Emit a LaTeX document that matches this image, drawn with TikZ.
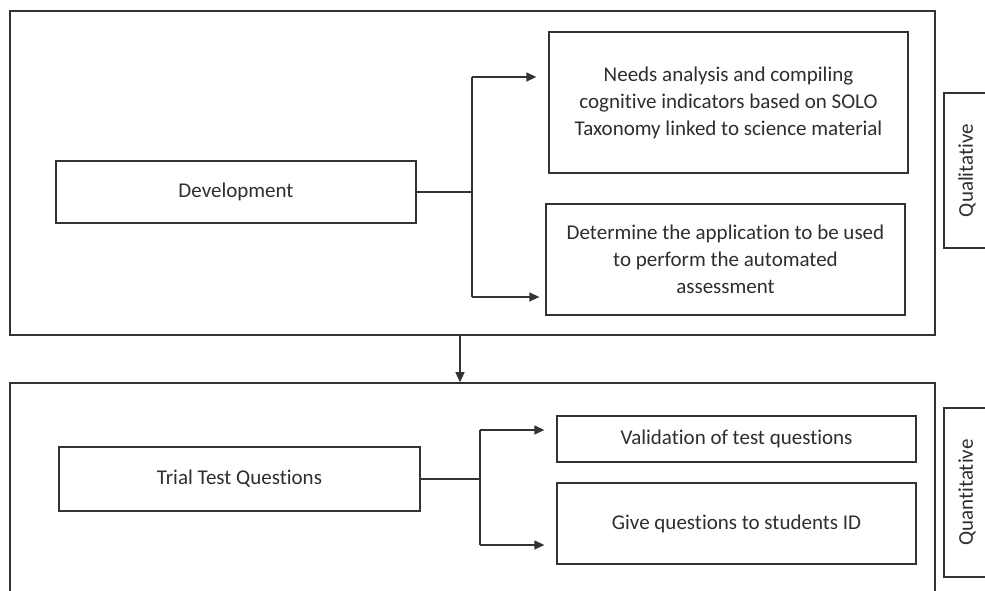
\documentclass[tikz,border=0pt]{standalone}
\usepackage{fontspec}
\setmainfont{Carlito}[Ligatures=NoCommon]
\usetikzlibrary{positioning,arrows.meta}

\definecolor{linegray}{HTML}{333333}
\definecolor{textgray}{HTML}{2E2E2E}

\tikzset{
  caixa/.style={draw=linegray, line width=1.3pt, text=textgray, align=center,
    inner sep=0pt, font=\fontsize{21}{27}\selectfont},
  marc/.style={draw=linegray, line width=1.6pt, inner sep=0pt},
  linia/.style={draw=linegray, line width=1.3pt},
  fletxa/.style={linia, -{Triangle[length=10pt,width=9pt]}},
}

\begin{document}
\begin{tikzpicture}[x=1pt, y=-1pt]
    % FULL
    \clip (0,0) rectangle (985,590);
    \useasboundingbox (0,0) rectangle (985,590);
    \fill[white] (0,0) rectangle (985,590);

    % MARCS EXTERIORS
    \node[marc, minimum width=925pt, minimum height=324pt] (outer1) at (472.5,173) {};
    \node[marc, minimum width=925pt, minimum height=227pt] (outer2) at (472.5,496.5) {};

    % FASE 1
    \node[caixa, minimum width=360pt, minimum height=62pt] (dev) at (236,192) {Development};
    \node[caixa, minimum width=359pt, minimum height=141pt] (needs) at (728.5,102.5)
        {Needs analysis and compiling\\cognitive indicators based on SOLO\\Taxonomy linked to science material};
    \node[caixa, minimum width=359pt, minimum height=111pt] (determine) at (725.5,259.5)
        {Determine the application to be used\\to perform the automated\\assessment};
    \node[caixa, minimum width=46pt, minimum height=155pt] (qual) at (967,170.5) {};
    \node[text=textgray, font=\fontsize{21}{24}\selectfont, rotate=90] at (qual.center) {Qualitative};

    % FASE 2
    \node[caixa, minimum width=361pt, minimum height=64pt] (trial) at (239.5,479) {Trial Test Questions};
    \node[caixa, minimum width=359pt, minimum height=46pt] (valid) at (736.5,439) {Validation of test questions};
    \node[caixa, minimum width=359pt, minimum height=81pt] (give) at (736.5,523.5) {Give questions to students ID};
    \node[caixa, minimum width=46pt, minimum height=169pt] (quant) at (967,492.5) {};
    \node[text=textgray, font=\fontsize{21}{24}\selectfont, rotate=90] at (quant.center) {Quantitative};

    % BRANQUES
    \coordinate (up1) at (472,77);
    \coordinate (dn1) at (472,297);
    \draw[linia] (dev.east) -- (dev.east -| up1);
    \draw[linia] (up1) -- (dn1);
    \draw[fletxa, shorten >=12pt] (up1) -- (up1 -| needs.west);
    \draw[fletxa, shorten >=6pt] (dn1) -- (dn1 -| determine.west);

    \coordinate (up2) at (480,430);
    \coordinate (dn2) at (480,545);
    \draw[linia] (trial.east) -- (trial.east -| up2);
    \draw[linia] (up2) -- (dn2);
    \draw[fletxa, shorten >=12pt] (up2) -- (up2 -| valid.west);
    \draw[fletxa, shorten >=12pt] (dn2) -- (dn2 -| give.west);

    % PAS ENTRE FASES
    \coordinate (pas) at (460,0);
    \draw[fletxa] (outer1.south -| pas) -- (outer2.north -| pas);
\end{tikzpicture}
\end{document}
